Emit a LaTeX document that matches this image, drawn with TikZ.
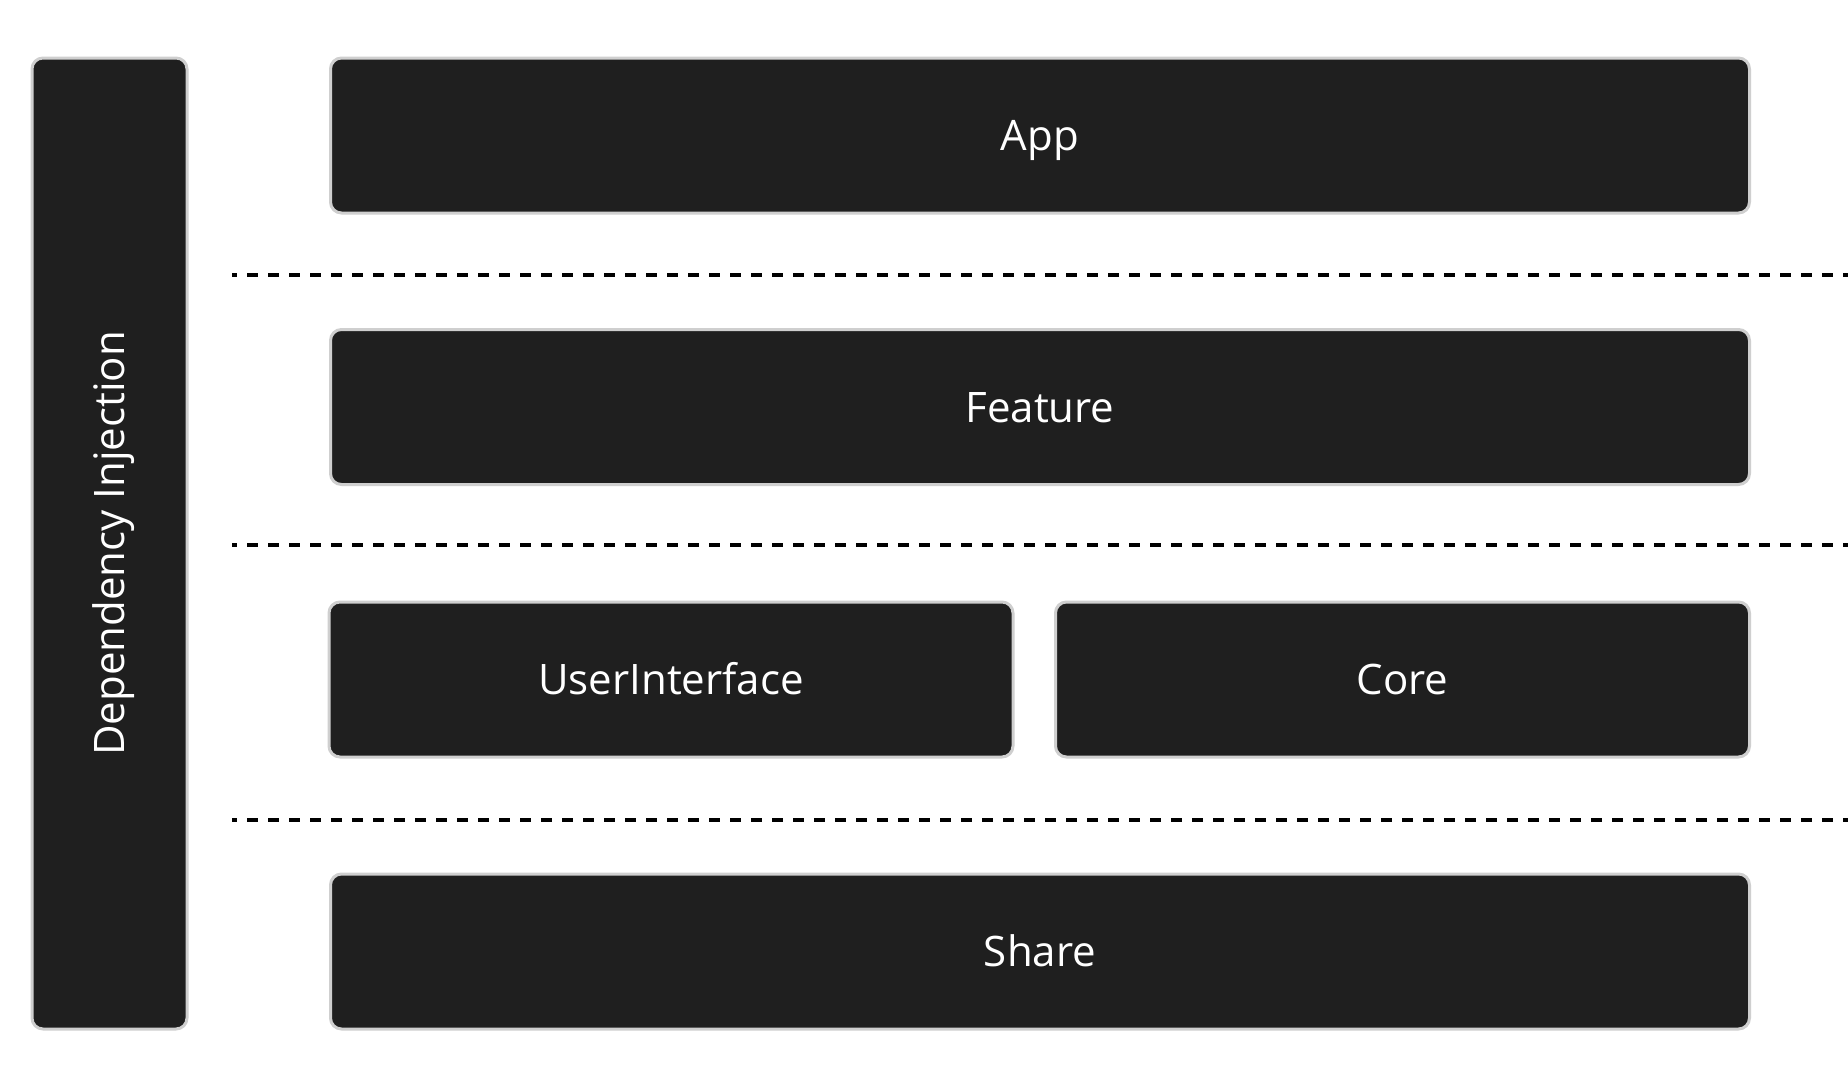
\documentclass[tikz,border=0pt]{standalone}
\usepackage{fontspec}
\setmainfont{Open Sans}
\usepackage{tikz}
\usepackage{xcolor}
\definecolor{boxdark}{HTML}{1F1F1F}
\definecolor{boxedge}{HTML}{CFCFCF}

\begin{document}
\begin{tikzpicture}[x=1pt,y=-1pt,
  layerbox/.style={draw=boxedge,line width=3pt,fill=boxdark,rounded corners=11pt,text=white,inner sep=0pt,text height=30pt,text depth=0pt,font=\fontsize{42}{50}\selectfont},
  sepline/.style={line width=4.5pt,dash pattern=on 10.5pt off 10.5pt,dash phase=6pt}]
\useasboundingbox[fill=white] (0,0) rectangle (1848,1090);

% Dependency injection column
\node[layerbox,rotate=90,minimum width=971pt,minimum height=155pt] (di) at (109.5,543.5) {Dependency Injection};

% Layers
\node[layerbox,minimum width=1419pt,minimum height=155pt] (app) at (1040,135.5) {App};
\node[layerbox,minimum width=1419pt,minimum height=155pt] (feature) at (1040,407) {Feature};
\node[layerbox,minimum width=684pt,minimum height=155pt] (ui) at (671,679.5) {UserInterface};
\node[layerbox,minimum width=694pt,minimum height=155pt] (core) at (1402.5,679.5) {Core};
\node[layerbox,minimum width=1419pt,minimum height=155pt] (share) at (1040,951.5) {Share};

% Layer boundaries
\draw[sepline] (232,275) -- (1848,275);
\draw[sepline] (232,545) -- (1848,545);
\draw[sepline] (232,820) -- (1848,820);
\end{tikzpicture}
\end{document}
